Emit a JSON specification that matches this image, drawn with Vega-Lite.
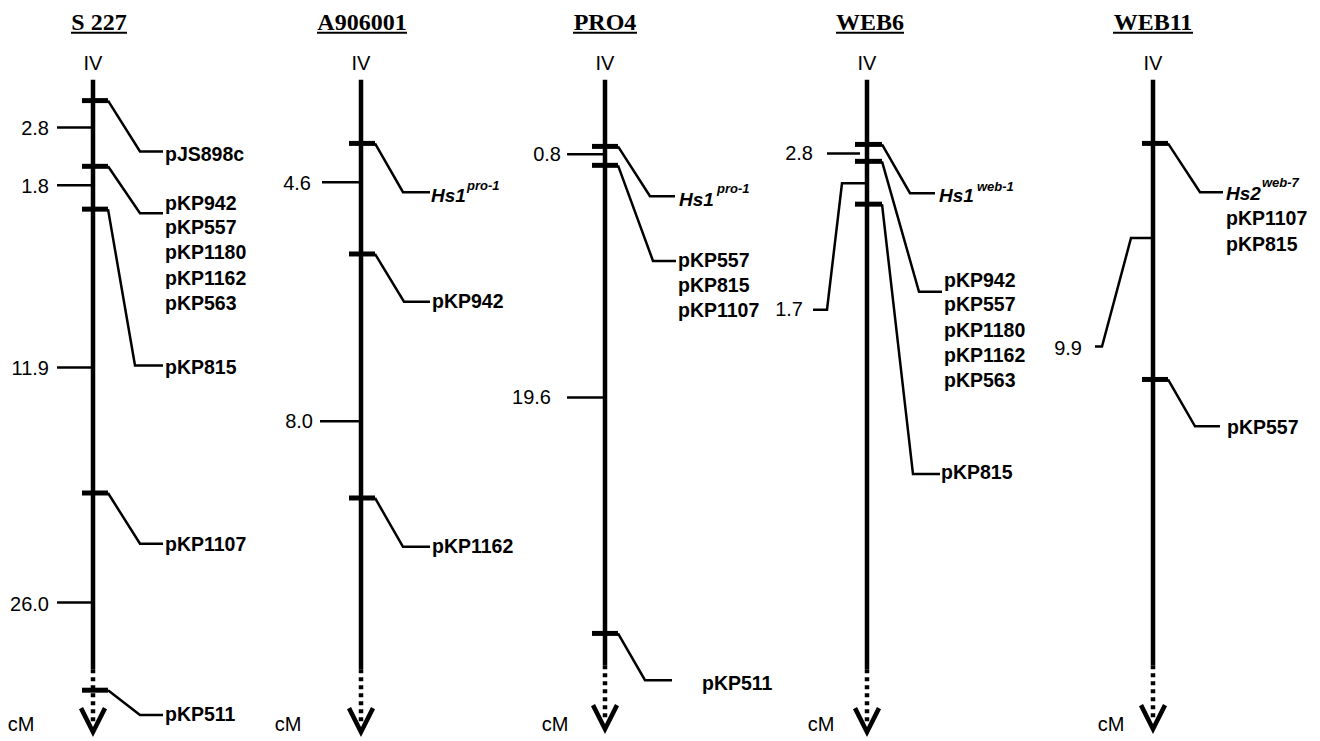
{
  "$schema": "https://vega.github.io/schema/vega-lite/v6.json",
  "width": 1320,
  "height": 741,
  "padding": 0,
  "autosize": {"type": "fit", "contains": "padding"},
  "background": "white",
  "config": {"view": {"stroke": null}},
  "datasets": {
    "rules": [
      {"kind": "chrom", "x": 93, "y": 80, "x2": 93, "y2": 672},
      {"kind": "chrom", "x": 361, "y": 80, "x2": 361, "y2": 672},
      {"kind": "chrom", "x": 605, "y": 80, "x2": 605, "y2": 668},
      {"kind": "chrom", "x": 867, "y": 80, "x2": 867, "y2": 672},
      {"kind": "chrom", "x": 1153, "y": 80, "x2": 1153, "y2": 668},
      {"kind": "dot", "x": 93, "y": 672, "x2": 93, "y2": 726},
      {"kind": "dot", "x": 361, "y": 672, "x2": 361, "y2": 726},
      {"kind": "dot", "x": 605, "y": 668, "x2": 605, "y2": 724},
      {"kind": "dot", "x": 867, "y": 672, "x2": 867, "y2": 726},
      {"kind": "dot", "x": 1153, "y": 668, "x2": 1153, "y2": 724},
      {"kind": "tick", "x": 82, "y": 101, "x2": 108, "y2": 101},
      {"kind": "tick", "x": 82, "y": 167, "x2": 108, "y2": 167},
      {"kind": "tick", "x": 82, "y": 210, "x2": 108, "y2": 210},
      {"kind": "tick", "x": 82, "y": 495, "x2": 108, "y2": 495},
      {"kind": "tick", "x": 82, "y": 693, "x2": 108, "y2": 693},
      {"kind": "tick", "x": 349, "y": 144, "x2": 375, "y2": 144},
      {"kind": "tick", "x": 349, "y": 255, "x2": 375, "y2": 255},
      {"kind": "tick", "x": 349, "y": 500, "x2": 375, "y2": 500},
      {"kind": "tick", "x": 592, "y": 147, "x2": 618, "y2": 147},
      {"kind": "tick", "x": 592, "y": 166, "x2": 618, "y2": 166},
      {"kind": "tick", "x": 592, "y": 636, "x2": 618, "y2": 636},
      {"kind": "tick", "x": 855, "y": 145, "x2": 882, "y2": 145},
      {"kind": "tick", "x": 855, "y": 162, "x2": 882, "y2": 162},
      {"kind": "tick", "x": 855, "y": 205, "x2": 882, "y2": 205},
      {"kind": "tick", "x": 1142, "y": 144, "x2": 1168, "y2": 144},
      {"kind": "tick", "x": 1142, "y": 381, "x2": 1168, "y2": 381},
      {"kind": "thin", "x": 57, "y": 128, "x2": 93, "y2": 128},
      {"kind": "thin", "x": 57, "y": 186, "x2": 93, "y2": 186},
      {"kind": "thin", "x": 57, "y": 369, "x2": 93, "y2": 369},
      {"kind": "thin", "x": 57, "y": 605, "x2": 93, "y2": 605},
      {"kind": "thin", "x": 322, "y": 183, "x2": 361, "y2": 183},
      {"kind": "thin", "x": 320, "y": 423, "x2": 361, "y2": 423},
      {"kind": "thin", "x": 567, "y": 155, "x2": 605, "y2": 155},
      {"kind": "thin", "x": 567, "y": 399, "x2": 605, "y2": 399},
      {"kind": "thin", "x": 827, "y": 154, "x2": 860, "y2": 154},
      {"kind": "under", "x": 71, "y": 33, "x2": 127, "y2": 33},
      {"kind": "under", "x": 317, "y": 33, "x2": 407, "y2": 33},
      {"kind": "under", "x": 573, "y": 33, "x2": 637, "y2": 33},
      {"kind": "under", "x": 836, "y": 33, "x2": 904, "y2": 33},
      {"kind": "under", "x": 1113, "y": 33, "x2": 1193, "y2": 33}
    ],
    "paths": [
      {"kind": "conn", "id": "a1", "i": 0, "x": 108, "y": 101},
      {"kind": "conn", "id": "a1", "i": 1, "x": 140, "y": 152},
      {"kind": "conn", "id": "a1", "i": 2, "x": 163, "y": 152},
      {"kind": "conn", "id": "a2", "i": 0, "x": 108, "y": 167},
      {"kind": "conn", "id": "a2", "i": 1, "x": 140, "y": 214},
      {"kind": "conn", "id": "a2", "i": 2, "x": 163, "y": 214},
      {"kind": "conn", "id": "a3", "i": 0, "x": 108, "y": 210},
      {"kind": "conn", "id": "a3", "i": 1, "x": 135, "y": 367},
      {"kind": "conn", "id": "a3", "i": 2, "x": 163, "y": 367},
      {"kind": "conn", "id": "a4", "i": 0, "x": 108, "y": 495},
      {"kind": "conn", "id": "a4", "i": 1, "x": 140, "y": 546},
      {"kind": "conn", "id": "a4", "i": 2, "x": 163, "y": 546},
      {"kind": "conn", "id": "a5", "i": 0, "x": 108, "y": 693},
      {"kind": "conn", "id": "a5", "i": 1, "x": 140, "y": 718},
      {"kind": "conn", "id": "a5", "i": 2, "x": 163, "y": 718},
      {"kind": "conn", "id": "b1", "i": 0, "x": 375, "y": 144},
      {"kind": "conn", "id": "b1", "i": 1, "x": 403, "y": 193},
      {"kind": "conn", "id": "b1", "i": 2, "x": 430, "y": 193},
      {"kind": "conn", "id": "b2", "i": 0, "x": 375, "y": 255},
      {"kind": "conn", "id": "b2", "i": 1, "x": 404, "y": 303},
      {"kind": "conn", "id": "b2", "i": 2, "x": 430, "y": 303},
      {"kind": "conn", "id": "b3", "i": 0, "x": 375, "y": 500},
      {"kind": "conn", "id": "b3", "i": 1, "x": 403, "y": 549},
      {"kind": "conn", "id": "b3", "i": 2, "x": 430, "y": 549},
      {"kind": "conn", "id": "c1", "i": 0, "x": 618, "y": 147},
      {"kind": "conn", "id": "c1", "i": 1, "x": 650, "y": 197},
      {"kind": "conn", "id": "c1", "i": 2, "x": 675, "y": 197},
      {"kind": "conn", "id": "c2", "i": 0, "x": 618, "y": 166},
      {"kind": "conn", "id": "c2", "i": 1, "x": 653, "y": 262},
      {"kind": "conn", "id": "c2", "i": 2, "x": 676, "y": 262},
      {"kind": "conn", "id": "c3", "i": 0, "x": 618, "y": 636},
      {"kind": "conn", "id": "c3", "i": 1, "x": 645, "y": 683},
      {"kind": "conn", "id": "c3", "i": 2, "x": 672, "y": 683},
      {"kind": "conn", "id": "d1", "i": 0, "x": 882, "y": 145},
      {"kind": "conn", "id": "d1", "i": 1, "x": 910, "y": 194},
      {"kind": "conn", "id": "d1", "i": 2, "x": 935, "y": 194},
      {"kind": "conn", "id": "d2", "i": 0, "x": 882, "y": 162},
      {"kind": "conn", "id": "d2", "i": 1, "x": 919, "y": 293},
      {"kind": "conn", "id": "d2", "i": 2, "x": 942, "y": 293},
      {"kind": "conn", "id": "d3", "i": 0, "x": 882, "y": 205},
      {"kind": "conn", "id": "d3", "i": 1, "x": 913, "y": 476},
      {"kind": "conn", "id": "d3", "i": 2, "x": 940, "y": 476},
      {"kind": "conn", "id": "d4", "i": 0, "x": 867, "y": 184},
      {"kind": "conn", "id": "d4", "i": 1, "x": 842, "y": 184},
      {"kind": "conn", "id": "d4", "i": 2, "x": 827, "y": 311},
      {"kind": "conn", "id": "d4", "i": 3, "x": 813, "y": 311},
      {"kind": "conn", "id": "e1", "i": 0, "x": 1168, "y": 144},
      {"kind": "conn", "id": "e1", "i": 1, "x": 1200, "y": 193},
      {"kind": "conn", "id": "e1", "i": 2, "x": 1223, "y": 193},
      {"kind": "conn", "id": "e2", "i": 0, "x": 1168, "y": 381},
      {"kind": "conn", "id": "e2", "i": 1, "x": 1195, "y": 428},
      {"kind": "conn", "id": "e2", "i": 2, "x": 1220, "y": 428},
      {"kind": "conn", "id": "e3", "i": 0, "x": 1153, "y": 239},
      {"kind": "conn", "id": "e3", "i": 1, "x": 1131, "y": 239},
      {"kind": "conn", "id": "e3", "i": 2, "x": 1102, "y": 348},
      {"kind": "conn", "id": "e3", "i": 3, "x": 1095, "y": 348},
      {"kind": "arrow", "id": "r1", "i": 0, "x": 81, "y": 711},
      {"kind": "arrow", "id": "r1", "i": 1, "x": 93, "y": 735},
      {"kind": "arrow", "id": "r1", "i": 2, "x": 105, "y": 711},
      {"kind": "arrow", "id": "r2", "i": 0, "x": 349, "y": 711},
      {"kind": "arrow", "id": "r2", "i": 1, "x": 361, "y": 735},
      {"kind": "arrow", "id": "r2", "i": 2, "x": 373, "y": 711},
      {"kind": "arrow", "id": "r3", "i": 0, "x": 593, "y": 708},
      {"kind": "arrow", "id": "r3", "i": 1, "x": 605, "y": 732},
      {"kind": "arrow", "id": "r3", "i": 2, "x": 617, "y": 708},
      {"kind": "arrow", "id": "r4", "i": 0, "x": 855, "y": 711},
      {"kind": "arrow", "id": "r4", "i": 1, "x": 867, "y": 735},
      {"kind": "arrow", "id": "r4", "i": 2, "x": 879, "y": 711},
      {"kind": "arrow", "id": "r5", "i": 0, "x": 1141, "y": 708},
      {"kind": "arrow", "id": "r5", "i": 1, "x": 1153, "y": 732},
      {"kind": "arrow", "id": "r5", "i": 2, "x": 1165, "y": 708}
    ],
    "texts": [
      {"kind": "title", "x": 99, "y": 30, "t": "S 227"},
      {"kind": "title", "x": 362, "y": 30, "t": "A906001"},
      {"kind": "title", "x": 605, "y": 30, "t": "PRO4"},
      {"kind": "title", "x": 870, "y": 30, "t": "WEB6"},
      {"kind": "title", "x": 1153, "y": 30, "t": "WEB11"},
      {"kind": "iv", "x": 93, "y": 64, "t": "IV"},
      {"kind": "iv", "x": 361, "y": 64, "t": "IV"},
      {"kind": "iv", "x": 605, "y": 64, "t": "IV"},
      {"kind": "iv", "x": 867, "y": 64, "t": "IV"},
      {"kind": "iv", "x": 1153, "y": 64, "t": "IV"},
      {"kind": "iv", "x": 21, "y": 728, "t": "cM"},
      {"kind": "iv", "x": 288, "y": 728, "t": "cM"},
      {"kind": "iv", "x": 555, "y": 728, "t": "cM"},
      {"kind": "iv", "x": 821, "y": 728, "t": "cM"},
      {"kind": "iv", "x": 1111, "y": 728, "t": "cM"},
      {"kind": "dist", "x": 49, "y": 130, "t": "2.8"},
      {"kind": "dist", "x": 49, "y": 188, "t": "1.8"},
      {"kind": "dist", "x": 49, "y": 370, "t": "11.9"},
      {"kind": "dist", "x": 49, "y": 607, "t": "26.0"},
      {"kind": "dist", "x": 311, "y": 185, "t": "4.6"},
      {"kind": "dist", "x": 313, "y": 424, "t": "8.0"},
      {"kind": "dist", "x": 561, "y": 156, "t": "0.8"},
      {"kind": "dist", "x": 551, "y": 400, "t": "19.6"},
      {"kind": "dist", "x": 813, "y": 155, "t": "2.8"},
      {"kind": "dist", "x": 803, "y": 311, "t": "1.7"},
      {"kind": "dist", "x": 1082, "y": 350, "t": "9.9"},
      {"kind": "lab", "x": 165, "y": 156, "t": "pJS898c"},
      {"kind": "lab", "x": 165, "y": 205, "t": "pKP942"},
      {"kind": "lab", "x": 165, "y": 229, "t": "pKP557"},
      {"kind": "lab", "x": 165, "y": 254, "t": "pKP1180"},
      {"kind": "lab", "x": 165, "y": 280, "t": "pKP1162"},
      {"kind": "lab", "x": 165, "y": 305, "t": "pKP563"},
      {"kind": "lab", "x": 165, "y": 369, "t": "pKP815"},
      {"kind": "lab", "x": 165, "y": 547, "t": "pKP1107"},
      {"kind": "lab", "x": 165, "y": 718, "t": "pKP511"},
      {"kind": "lab", "x": 432, "y": 303, "t": "pKP942"},
      {"kind": "lab", "x": 432, "y": 549, "t": "pKP1162"},
      {"kind": "lab", "x": 678, "y": 262, "t": "pKP557"},
      {"kind": "lab", "x": 678, "y": 287, "t": "pKP815"},
      {"kind": "lab", "x": 678, "y": 312, "t": "pKP1107"},
      {"kind": "lab", "x": 702, "y": 687, "t": "pKP511"},
      {"kind": "lab", "x": 944, "y": 282, "t": "pKP942"},
      {"kind": "lab", "x": 944, "y": 306, "t": "pKP557"},
      {"kind": "lab", "x": 944, "y": 332, "t": "pKP1180"},
      {"kind": "lab", "x": 944, "y": 357, "t": "pKP1162"},
      {"kind": "lab", "x": 944, "y": 383, "t": "pKP563"},
      {"kind": "lab", "x": 941, "y": 475, "t": "pKP815"},
      {"kind": "lab", "x": 1226, "y": 220, "t": "pKP1107"},
      {"kind": "lab", "x": 1226, "y": 246, "t": "pKP815"},
      {"kind": "lab", "x": 1227, "y": 430, "t": "pKP557"},
      {"kind": "gene", "x": 431, "y": 197, "t": "Hs1"},
      {"kind": "gene", "x": 679, "y": 201, "t": "Hs1"},
      {"kind": "gene", "x": 939, "y": 197, "t": "Hs1"},
      {"kind": "gene", "x": 1226, "y": 195, "t": "Hs2"},
      {"kind": "sup", "x": 467, "y": 187, "t": "pro-1"},
      {"kind": "sup", "x": 717, "y": 190, "t": "pro-1"},
      {"kind": "sup", "x": 977, "y": 188, "t": "web-1"},
      {"kind": "sup", "x": 1262, "y": 184, "t": "web-7"}
    ]
  },
  "layer": [
    {
      "data": {"name": "rules"},
      "transform": [{"filter": "datum.kind === 'chrom'"}],
      "mark": {"type": "rule", "color": "black", "strokeWidth": 4.5},
      "encoding": {
        "x": {"field": "x", "type": "quantitative", "scale": {"domain": [0, 1320], "nice": false, "zero": false}, "axis": null},
        "x2": {"field": "x2"},
        "y": {"field": "y", "type": "quantitative", "scale": {"domain": [0, 741], "reverse": true, "nice": false, "zero": false}, "axis": null},
        "y2": {"field": "y2"}
      }
    },
    {
      "data": {"name": "rules"},
      "transform": [{"filter": "datum.kind === 'dot'"}],
      "mark": {"type": "rule", "color": "black", "strokeWidth": 4.5, "strokeDash": [4, 4]},
      "encoding": {
        "x": {"field": "x", "type": "quantitative"},
        "x2": {"field": "x2"},
        "y": {"field": "y", "type": "quantitative"},
        "y2": {"field": "y2"}
      }
    },
    {
      "data": {"name": "rules"},
      "transform": [{"filter": "datum.kind === 'tick'"}],
      "mark": {"type": "rule", "color": "black", "strokeWidth": 5},
      "encoding": {
        "x": {"field": "x", "type": "quantitative"},
        "x2": {"field": "x2"},
        "y": {"field": "y", "type": "quantitative"},
        "y2": {"field": "y2"}
      }
    },
    {
      "data": {"name": "rules"},
      "transform": [{"filter": "datum.kind === 'thin'"}],
      "mark": {"type": "rule", "color": "black", "strokeWidth": 2.5},
      "encoding": {
        "x": {"field": "x", "type": "quantitative"},
        "x2": {"field": "x2"},
        "y": {"field": "y", "type": "quantitative"},
        "y2": {"field": "y2"}
      }
    },
    {
      "data": {"name": "rules"},
      "transform": [{"filter": "datum.kind === 'under'"}],
      "mark": {"type": "rule", "color": "black", "strokeWidth": 2},
      "encoding": {
        "x": {"field": "x", "type": "quantitative"},
        "x2": {"field": "x2"},
        "y": {"field": "y", "type": "quantitative"},
        "y2": {"field": "y2"}
      }
    },
    {
      "data": {"name": "paths"},
      "transform": [{"filter": "datum.kind === 'conn'"}],
      "mark": {"type": "line", "color": "black", "strokeWidth": 2.5, "strokeJoin": "miter"},
      "encoding": {
        "x": {"field": "x", "type": "quantitative"},
        "y": {"field": "y", "type": "quantitative"},
        "detail": {"field": "id"},
        "order": {"field": "i", "type": "quantitative"}
      }
    },
    {
      "data": {"name": "paths"},
      "transform": [{"filter": "datum.kind === 'arrow'"}],
      "mark": {"type": "line", "color": "black", "strokeWidth": 4.5, "strokeJoin": "miter"},
      "encoding": {
        "x": {"field": "x", "type": "quantitative"},
        "y": {"field": "y", "type": "quantitative"},
        "detail": {"field": "id"},
        "order": {"field": "i", "type": "quantitative"}
      }
    },
    {
      "data": {"name": "texts"},
      "transform": [{"filter": "datum.kind === 'title'"}],
      "mark": {"type": "text", "font": "Liberation Serif", "fontWeight": "bold", "fontSize": 24, "align": "center", "baseline": "alphabetic", "color": "black"},
      "encoding": {
        "x": {"field": "x", "type": "quantitative"},
        "y": {"field": "y", "type": "quantitative"},
        "text": {"field": "t"}
      }
    },
    {
      "data": {"name": "texts"},
      "transform": [{"filter": "datum.kind === 'iv'"}],
      "mark": {"type": "text", "font": "Liberation Sans", "fontSize": 20, "align": "center", "baseline": "middle", "color": "black"},
      "encoding": {
        "x": {"field": "x", "type": "quantitative"},
        "y": {"field": "y", "type": "quantitative"},
        "text": {"field": "t"}
      }
    },
    {
      "data": {"name": "texts"},
      "transform": [{"filter": "datum.kind === 'dist'"}],
      "mark": {"type": "text", "font": "Liberation Sans", "fontSize": 20, "align": "right", "baseline": "middle", "color": "black"},
      "encoding": {
        "x": {"field": "x", "type": "quantitative"},
        "y": {"field": "y", "type": "quantitative"},
        "text": {"field": "t"}
      }
    },
    {
      "data": {"name": "texts"},
      "transform": [{"filter": "datum.kind === 'lab'"}],
      "mark": {"type": "text", "font": "Liberation Sans", "fontWeight": "bold", "fontSize": 19.5, "align": "left", "baseline": "middle", "color": "black"},
      "encoding": {
        "x": {"field": "x", "type": "quantitative"},
        "y": {"field": "y", "type": "quantitative"},
        "text": {"field": "t"}
      }
    },
    {
      "data": {"name": "texts"},
      "transform": [{"filter": "datum.kind === 'gene'"}],
      "mark": {"type": "text", "font": "Liberation Sans", "fontWeight": "bold", "fontStyle": "italic", "fontSize": 19, "align": "left", "baseline": "middle", "color": "black"},
      "encoding": {
        "x": {"field": "x", "type": "quantitative"},
        "y": {"field": "y", "type": "quantitative"},
        "text": {"field": "t"}
      }
    },
    {
      "data": {"name": "texts"},
      "transform": [{"filter": "datum.kind === 'sup'"}],
      "mark": {"type": "text", "font": "Liberation Sans", "fontWeight": "bold", "fontStyle": "italic", "fontSize": 13, "align": "left", "baseline": "middle", "color": "black"},
      "encoding": {
        "x": {"field": "x", "type": "quantitative"},
        "y": {"field": "y", "type": "quantitative"},
        "text": {"field": "t"}
      }
    }
  ]
}
